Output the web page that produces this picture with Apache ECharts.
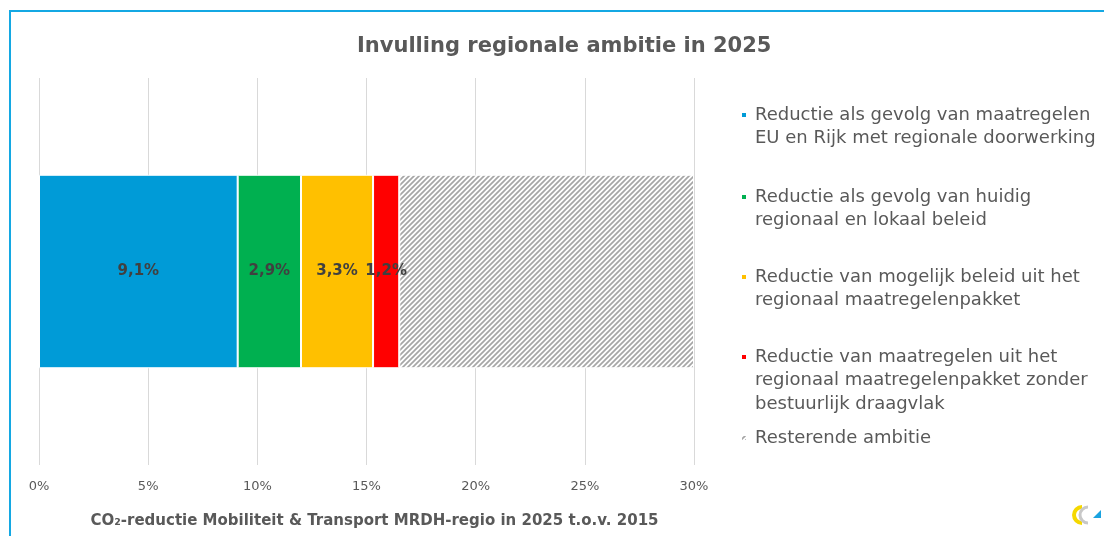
<!DOCTYPE html>
<html>
<head>
<meta charset="utf-8">
<script src="https://cdn.jsdelivr.net/npm/echarts@6/dist/echarts.min.js"></script>
<style>
  html, body { margin: 0; padding: 0; background: #fff; }
  #main { width: 1104px; height: 536px; }
</style>
</head>
<body>
<div id="main"></div>
<script>
// data
var categories = ['2025'];
var seriesNames = [
  'Reductie als gevolg van maatregelen\nEU en Rijk met regionale doorwerking',
  'Reductie als gevolg van huidig\nregionaal en lokaal beleid',
  'Reductie van mogelijk beleid uit het\nregionaal maatregelenpakket',
  'Reductie van maatregelen uit het\nregionaal maatregelenpakket zonder\nbestuurlijk draagvlak',
  'Resterende ambitie'
];
var seriesValues = [9.1, 2.9, 3.3, 1.2, 13.5];
var showLabel = [true, true, true, true, false];
var xTicks = { min: 0, max: 30, step: 5 };

// kleuren
var colors = ['#009bd7', '#00b050', '#ffc000', '#ff0000', null];

// arcering voor resterende ambitie
function makeHatch() {
  var c = document.createElement('canvas');
  c.width = 5; c.height = 5;
  var ctx = c.getContext('2d');
  ctx.fillStyle = '#ffffff';
  ctx.fillRect(0, 0, 5, 5);
  ctx.strokeStyle = '#a6a6a6';
  ctx.lineWidth = 1.7;
  ctx.beginPath();
  ctx.moveTo(-1, 1); ctx.lineTo(1, -1);
  ctx.moveTo(-1, 6); ctx.lineTo(6, -1);
  ctx.moveTo(4, 6); ctx.lineTo(6, 4);
  ctx.stroke();
  return c;
}
var hatch = { image: makeHatch(), repeat: 'repeat' };

var legendFirstLine = [115, 197, 277, 357, 438];
var lineH = 23.5;

var textColor = '#595959';
var fontFam = '"DejaVu Sans", Verdana, sans-serif';

var series = [];
var legends = [];
seriesNames.forEach(function (name, i) {
  series.push({
    name: name,
    type: 'bar',
    stack: 'totaal',
    barWidth: '50%',
    data: [seriesValues[i]],
    itemStyle: {
      color: colors[i] || hatch,
      borderColor: '#ffffff',
      borderWidth: 1
    },
    label: {
      show: showLabel[i],
      position: 'inside',
      color: '#404040',
      fontWeight: 'bold',
      fontSize: 15,
      fontFamily: fontFam,
      formatter: function (p) {
        return p.value.toFixed(1).replace('.', ',') + '%';
      }
    },
    emphasis: { disabled: true }
  });
  var lines = name.split('\n').length;
  // lege regels ervoor zodat het blokje bij de eerste regel staat
  var pre = new Array(lines).join('\n');
  legends.push({
    data: [name],
    orient: 'vertical',
    left: 740,
    top: legendFirstLine[i] - (2 * lines - 1) * lineH / 2,
    padding: 0,
    itemWidth: 6,
    itemHeight: 6,
    icon: 'rect',
    selectedMode: false,
    formatter: function (n) { return pre + n; },
    textStyle: {
      color: textColor,
      fontSize: 18,
      fontFamily: fontFam,
      lineHeight: lineH,
      padding: [0, 0, 0, 3]
    }
  });
});

var chart = echarts.init(document.getElementById('main'));
var option = {
  animation: false,
  backgroundColor: '#ffffff',
  title: {
    text: 'Invulling regionale ambitie in 2025',
    left: 352,
    top: 31,
    textStyle: {
      color: textColor,
      fontSize: 21,
      fontWeight: 'bold',
      fontFamily: fontFam
    }
  },
  legend: legends,
  grid: { left: 39, right: 410, top: 78, bottom: 71 },
  xAxis: {
    type: 'value',
    min: xTicks.min,
    max: xTicks.max,
    interval: xTicks.step,
    axisLine: { show: false },
    axisTick: { show: false },
    splitLine: { lineStyle: { color: '#d9d9d9', width: 1 } },
    axisLabel: {
      color: textColor,
      fontSize: 13,
      fontFamily: fontFam,
      margin: 15,
      formatter: '{value}%'
    },
    name: 'CO\u2082-reductie Mobiliteit & Transport MRDH-regio in 2025 t.o.v. 2015',
    nameLocation: 'middle',
    nameGap: 49,
    nameTextStyle: {
      color: textColor,
      fontSize: 15,
      fontWeight: 'bold',
      fontFamily: fontFam,
      padding: [0, 0, 0, 16]
    }
  },
  yAxis: {
    type: 'category',
    data: categories,
    show: false
  },
  graphic: [
    {
      type: 'rect',
      shape: { x: 10, y: 11, width: 1200, height: 700 },
      style: { fill: null, stroke: '#14a8e3', lineWidth: 2 },
      silent: true
    },
    // klein logo rechtsonder
    {
      type: 'arc',
      shape: { cx: 1082, cy: 515, r: 8, startAngle: Math.PI * 0.5, endAngle: Math.PI * 1.5 },
      style: { stroke: '#f5d800', lineWidth: 4, fill: null }
    },
    {
      type: 'arc',
      shape: { cx: 1088, cy: 515, r: 8, startAngle: Math.PI * 0.5, endAngle: Math.PI * 1.5 },
      style: { stroke: '#c8c8c8', lineWidth: 3, fill: null }
    },
    {
      type: 'polygon',
      shape: { points: [[1093, 518], [1101, 518], [1101, 510]] },
      style: { fill: '#1aa3e0' }
    }
  ],
  series: series
};
chart.setOption(option);
</script>
</body>
</html>
